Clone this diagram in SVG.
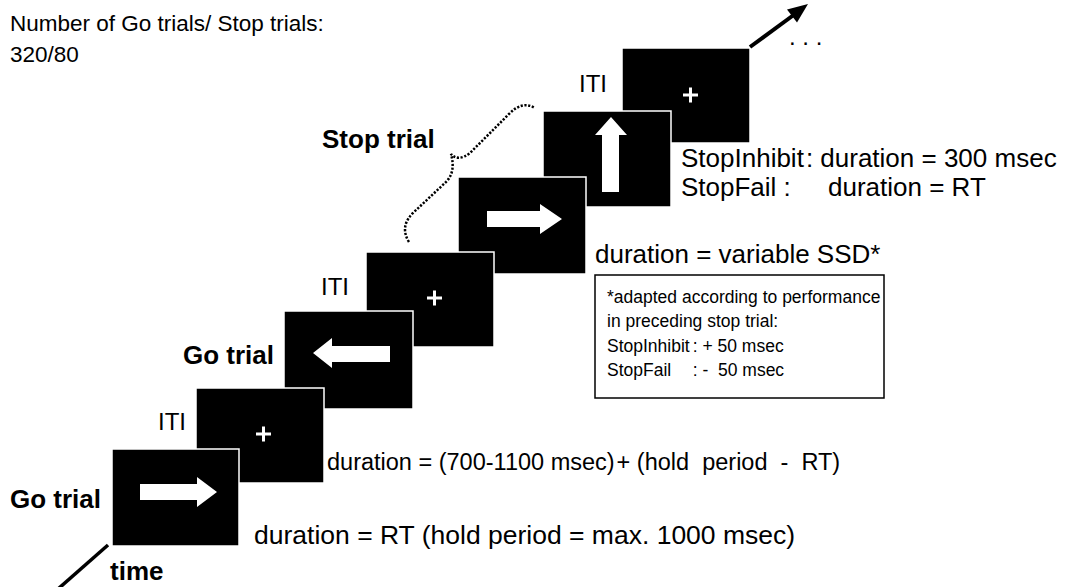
<svg xmlns="http://www.w3.org/2000/svg" width="1072" height="587" viewBox="0 0 1072 587">
<style>
text{font-family:"Liberation Sans",Arial,sans-serif;fill:#000}
.t{font-size:22.5px}
.r{font-size:26px}
.i{font-size:24px}
.b{font-size:26px;font-weight:bold}
.s{font-size:17.5px}
.scr{fill:#000;stroke:#fff;stroke-width:1.5}
.w{fill:#fff}
.cross{stroke:#fff;stroke-width:3}
</style>
<rect width="1072" height="587" fill="#fff"/>

<g id="screen7">
<rect class="scr" x="622" y="48" width="128" height="95"/>
<path class="cross" d="M683,95h15M690.5,87.5v15"/>
</g>
<g id="screen6">
<rect class="scr" x="543" y="111" width="128" height="96"/>
<polygon class="w" points="611,117 627,135 619,135 619,192 602,192 602,135 595,135"/>
</g>
<g id="screen5">
<rect class="scr" x="458" y="177" width="128" height="97"/>
<polygon class="w" points="487,211 540,211 540,204 562,219 540,234 540,227 487,227"/>
</g>
<g id="screen4">
<rect class="scr" x="366" y="252" width="128" height="95"/>
<path class="cross" d="M427,298h15M434.5,290.5v15"/>
</g>
<g id="screen3">
<rect class="scr" x="284" y="311" width="129" height="98"/>
<polygon class="w" points="313,353 332,338 332,346 390,346 390,362 332,362 332,368"/>
</g>
<g id="screen2">
<rect class="scr" x="196" y="388" width="128" height="95"/>
<path class="cross" d="M256,434h15M263.5,426.5v15"/>
</g>
<g id="screen1">
<rect class="scr" x="112" y="449" width="127" height="97"/>
<polygon class="w" points="140,484 197,484 197,477 217,492 197,507 197,500 140,500"/>
</g>

<g id="connectors">
<line x1="58" y1="589" x2="108" y2="545" stroke="#000" stroke-width="3.5"/>
<line x1="750" y1="47" x2="795" y2="14" stroke="#000" stroke-width="4"/>
<polygon points="808,4 787,9.6 797,22.4" fill="#000"/>
<path d="M409,242 Q399,226 414,212 L446,182 Q456,172 451,154 Q458,162 470,153 L508,115 Q522,100 535,108" fill="none" stroke="#000" stroke-width="2.5" stroke-dasharray="2.2 1.6"/>
</g>

<g id="labels">
<text class="t" x="10" y="31">Number of Go trials/ Stop trials:</text>
<text class="t" x="10" y="62">320/80</text>
<text class="b" x="10" y="508">Go trial</text>
<text class="b" x="110" y="580">time</text>
<text class="i" x="158" y="430">ITI</text>
<text class="b" x="183" y="364">Go trial</text>
<text class="i" x="321" y="295">ITI</text>
<text class="b" x="322" y="148">Stop trial</text>
<text class="i" x="579" y="92">ITI</text>
<text class="r" x="254" y="544" style="font-size:26.5px">duration = RT (hold period = max. 1000 msec)</text>
<text class="r" x="327" y="470" xml:space="preserve" style="font-size:23.5px">duration = (700-1100 msec)<tspan dx="2">+ (hold  period  -  RT)</tspan></text>
<text class="r" x="595" y="263">duration = variable SSD*</text>
<text class="r" x="681" y="167">StopInhibit<tspan dx="2">: duration = 300 msec</tspan></text>
<text class="r" x="681" y="196">StopFail :</text>
<text class="r" x="828" y="196">duration = RT</text>
<text class="i" x="789" y="45">. . .</text>
</g>

<g id="note">
<rect x="595" y="275" width="289" height="123" fill="#fff" stroke="#000" stroke-width="1.5"/>
<text class="s" x="607" y="303">*adapted according to performance</text>
<text class="s" x="607" y="327">in preceding stop trial:</text>
<text class="s" x="607" y="352">StopInhibit<tspan dx="3">: + 50 msec</tspan></text>
<text class="s" x="607" y="376" xml:space="preserve">StopFail<tspan dx="21.5">: -  50 msec</tspan></text>
</g>
</svg>
